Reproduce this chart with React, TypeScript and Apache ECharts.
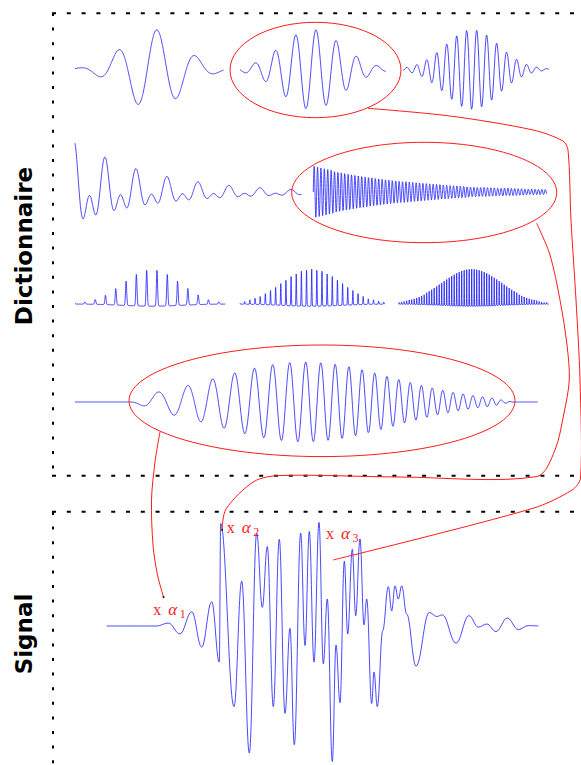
import React, { useEffect, useRef } from "react";
import * as echarts from "echarts";

// ---------------- DATA (time in samples, amplitude normalised) ----------------
// Row 1 : Gabor atoms
const gaborLength = [149, 146, 146];
const gaborCenter = [78, 72, 69];
const gaborPhaseRef = [82, 76, 73.7];
const gaborPeriod = [39, 20.3, 10];
const gaborSigma = [29, 30, 27];

// Row 2 : damped harmonic atom + fast damped oscillation
const dampedLength = [227, 233.4];
const dampedRef = [30, 0];
const dampedPeriod = [31, 3.4];
const dampedTau = [80, 100];
const dampedFundAmp = [0.475, 0.65];
const dampedHarmAmp = [0.425, 0];

// Row 3 : harmonic spike trains
const spikeLength = [150.7, 145, 150.7];
const spikeCenter = [76.7, 71.7, 73.4];
const spikeRef = [71.7, 71.7, 73.4];
const spikePeriod = [10.3, 5.15, 2.5];
const spikeSigma = [28.5, 30, 30];
const spikeAmp = [0.925, 0.925, 0.925];

// Row 4 : chirp atom
const chirpLength = 462.7;
const chirpCenter = 230;
const chirpSigma = 88;
const chirpRef = 83.3;
const chirpF0 = 0.03054;
const chirpRate = 0.00023;
const chirpSupport = [52, 444]; // start / end of the atom's support (samples)

// Signal: extrema (time, amplitude)
const signalT = [0, 50, 61.6, 73.3, 85, 95, 105, 112.6, 114, 127.3, 135, 142.6, 150, 155.6, 160.6, 166.6, 172.6, 178.3, 183.3, 187.6, 194, 198.3, 202.6, 207.3, 212.3, 216.6, 220.6, 225.6, 229.3, 233.3, 237.6, 241, 245.6, 249, 253.3, 257.3, 260, 265, 267.3, 270.6, 276, 281.6, 285, 288.3, 291.6, 295, 300, 309.3, 322.6, 330, 335.6, 349.3, 362.3, 371.6, 380, 389.3, 400.6, 411.6, 421.6, 431.6];
const signalA = [0, 0, 0.075, -0.2, 0.36, -0.53, 0.61, -0.91, 2.58, -2.03, 1.13, -3.2, 2.34, 0.47, 2.0, -2.03, 2.18, -2.2, -0.06, -2.99, 2.34, -0.49, 2.38, -0.91, 2.61, -0.95, 0.68, -3.41, -0.48, -1.93, 1.63, -0.2, 1.93, 0.26, 2.19, 0.03, 0.68, -1.95, -1.16, -2.03, -0.12, 0.99, 0.38, 1.01, 0.68, 1.01, 0.3, -1.01, 0.34, 0.24, 0.28, -0.43, 0.26, -0.03, 0.05, -0.14, 0.2, -0.09, 0.01, 0];

const axisLabels = ["Dictionnaire", "Signal"];
const coefLabels = ["1", "2", "3"];

// ---------------- LAYOUT (pixels) ----------------
const BLUE = "#1a1aff";
const RED = "#ff1a1a";
const UNIT = 40; // px per amplitude unit

const row1Left = [75, 240, 403];
const row1Base = 69.5;
const row2Left = [75, 313.3];
const row2Base = [193, 192];
const row3Left = [75, 240, 398.3];
const row3Base = 304;
const row4Left = 75;
const row4Base = 402;
const signalLeft = 106.7;
const signalBase = 627;

const ellipses = [
  [315.5, 70, 85.5, 47.7],
  [424.2, 192.5, 132.5, 50.2],
  [322, 400.8, 193, 55.8],
];

const connectors = [
  [[160, 431.7], [155, 462], [151.5, 500], [153, 545], [157.5, 575], [163.5, 597]],
  [[536.7, 223.3], [550, 255], [560, 300], [567, 345], [569.3, 380], [564, 413], [555, 450], [537, 476.5], [400, 477], [280, 475.5], [254, 481.5], [226, 509], [222, 530]],
  [[368, 108.3], [450, 116], [533, 130], [563, 141], [568, 150], [571, 220], [576, 300], [580, 380], [580.5, 478], [572, 490], [533, 508.3], [333, 560]],
];

const labelPos = [
  [153.3, 610.5],
  [226.7, 528.5],
  [326, 534.5],
];

function sample(length: number, step: number, f: (t: number) => number) {
  const pts: number[][] = [];
  const n = Math.round(length / step);
  for (let i = 0; i <= n; i++) {
    const t = (i * length) / n;
    pts.push([t, f(t)]);
  }
  return pts;
}

function taper(t: number, a: number, b: number, w: number) {
  if (t <= a || t >= b) return 0;
  if (t < a + w) return 0.5 - 0.5 * Math.cos((Math.PI * (t - a)) / w);
  if (t > b - w) return 0.5 - 0.5 * Math.cos((Math.PI * (b - t)) / w);
  return 1;
}

function buildOption() {
  const grids: any[] = [];
  const xAxes: any[] = [];
  const yAxes: any[] = [];
  const series: any[] = [];

  const addPanel = (left: number, base: number, length: number, yr: number, data: number[][], smooth: any = false) => {
    const i = grids.length;
    grids.push({ left, top: base - yr * UNIT, width: length, height: 2 * yr * UNIT, show: false });
    xAxes.push({ type: "value", gridIndex: i, min: 0, max: length, show: false });
    yAxes.push({ type: "value", gridIndex: i, min: -yr, max: yr, show: false });
    series.push({
      type: "line",
      xAxisIndex: i,
      yAxisIndex: i,
      data,
      symbol: "none",
      showSymbol: false,
      smooth,
      smoothMonotone: smooth ? "x" : undefined,
      clip: false,
      silent: true,
      lineStyle: { color: BLUE, width: 0.8 },
    });
  };

  // Row 1
  for (let k = 0; k < 3; k++) {
    const data = sample(gaborLength[k], 0.25, (t) =>
      Math.exp(-((t - gaborCenter[k]) ** 2) / (2 * gaborSigma[k] ** 2)) *
      Math.cos((2 * Math.PI * (t - gaborPhaseRef[k])) / gaborPeriod[k])
    );
    addPanel(row1Left[k], row1Base, gaborLength[k], 1.5, data);
  }
  // Row 2
  for (let k = 0; k < 2; k++) {
    const data = sample(dampedLength[k], k === 0 ? 0.25 : 0.1, (t) => {
      const d = t - dampedRef[k];
      const env = Math.exp(-d / dampedTau[k]);
      if (k === 0) {
        return env * (dampedFundAmp[k] * Math.cos((2 * Math.PI * d) / dampedPeriod[k]) +
          dampedHarmAmp[k] * Math.cos((4 * Math.PI * d) / dampedPeriod[k]));
      }
      return env * dampedFundAmp[k] * Math.sin((2 * Math.PI * d) / dampedPeriod[k]);
    });
    addPanel(row2Left[k], row2Base[k], dampedLength[k], 1.5, data);
  }
  // Row 3
  for (let k = 0; k < 3; k++) {
    const data = sample(spikeLength[k], k === 2 ? 0.05 : 0.1, (t) =>
      spikeAmp[k] * Math.exp(-((t - spikeCenter[k]) ** 2) / (2 * spikeSigma[k] ** 2)) *
      (Math.exp(8 * (Math.cos((2 * Math.PI * (t - spikeRef[k])) / spikePeriod[k]) - 1)) - 0.06)
    );
    addPanel(row3Left[k], row3Base, spikeLength[k], 1.5, data);
  }
  // Row 4
  {
    const data = sample(chirpLength, 0.25, (t) => {
      const d = t - chirpRef;
      return taper(t, chirpSupport[0], chirpSupport[1], 30) *
        Math.exp(-((t - chirpCenter) ** 2) / (2 * chirpSigma ** 2)) *
        Math.cos(2 * Math.PI * (chirpF0 * d + (chirpRate / 2) * d * d));
    });
    addPanel(row4Left, row4Base, chirpLength, 1.5, data);
  }
  // Signal
  {
    const data = signalT.map((t, i) => [t, signalA[i]]);
    addPanel(signalLeft, signalBase, signalT[signalT.length - 1], 3.5, data, 0.4);
  }

  const graphic: any[] = [];
  const dotted = (x1: number, y1: number, x2: number, y2: number, dash: number[]) =>
    graphic.push({ type: "line", shape: { x1, y1, x2, y2 }, silent: true, style: { stroke: "#000", lineWidth: 2, lineDash: dash } });
  dotted(52, 13.3, 581, 13.3, [4, 10.8]);
  dotted(53, 13, 53, 476, [3, 11.6]);
  dotted(52, 475.7, 581, 475.7, [4, 10.8]);
  dotted(52, 511.7, 581, 511.7, [4, 10.8]);
  dotted(53, 512, 53, 765, [3, 11.6]);

  ellipses.forEach(([cx, cy, rx, ry]) =>
    graphic.push({ type: "ellipse", shape: { cx, cy, rx, ry }, silent: true, z: 10, style: { fill: "none", stroke: RED, lineWidth: 1 } })
  );
  connectors.forEach((pts) =>
    graphic.push({ type: "polyline", shape: { points: pts, smooth: 0.3 }, silent: true, z: 10, style: { fill: "none", stroke: RED, lineWidth: 1 } })
  );
  [connectors[0][connectors[0].length - 1], connectors[1][connectors[1].length - 1]].forEach(([x, y]) =>
    graphic.push({ type: "circle", shape: { cx: x, cy: y, r: 1 }, silent: true, z: 11, style: { fill: "#400" } })
  );

  graphic.push({
    type: "text", x: 24, y: 246, rotation: Math.PI / 2, silent: true,
    style: { text: axisLabels[0], fontFamily: "DejaVu Sans", fontWeight: "bold", fontSize: 23, fill: "#000", align: "center", verticalAlign: "middle" },
  });
  graphic.push({
    type: "text", x: 24, y: 634, rotation: Math.PI / 2, silent: true,
    style: { text: axisLabels[1], fontFamily: "DejaVu Sans", fontWeight: "bold", fontSize: 23, fill: "#000", align: "center", verticalAlign: "middle" },
  });

  labelPos.forEach(([x, y], i) => {
    graphic.push({ type: "text", x, y: y - 1, silent: true, z: 12, style: { text: "x", fontFamily: "Liberation Serif", fontSize: 16, fill: RED, align: "left", verticalAlign: "middle" } });
    graphic.push({ type: "text", x: x + 15, y: y - 1, silent: true, z: 12, style: { text: "α", fontFamily: "Liberation Serif", fontStyle: "italic", fontSize: 17, fill: RED, align: "left", verticalAlign: "middle" } });
    graphic.push({ type: "text", x: x + 26.5, y: y + 3.5, silent: true, z: 12, style: { text: coefLabels[i], fontFamily: "Liberation Serif", fontSize: 12, fill: RED, align: "left", verticalAlign: "middle" } });
  });

  return {
    animation: false,
    backgroundColor: "#fff",
    grid: grids,
    xAxis: xAxes,
    yAxis: yAxes,
    series,
    graphic: { elements: graphic },
  };
}

export default function App() {
  const ref = useRef<HTMLDivElement>(null);
  useEffect(() => {
    document.body.style.margin = "0";
    if (!ref.current) return;
    const chart = echarts.init(ref.current, undefined, { renderer: "svg" });
    chart.setOption(buildOption() as any);
    return () => chart.dispose();
  }, []);
  return <div ref={ref} style={{ width: 581, height: 765 }} />;
}
